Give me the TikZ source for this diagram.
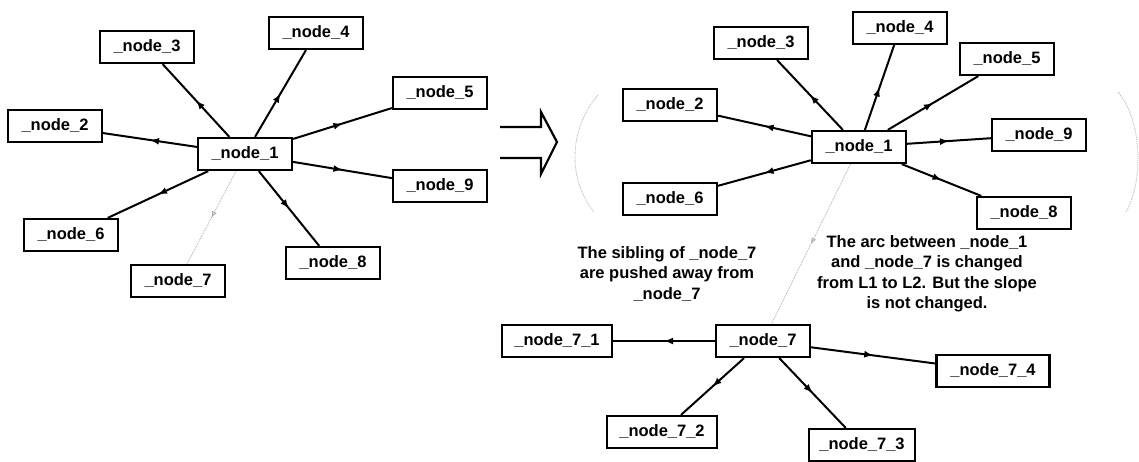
\documentclass[tikz,border=0pt]{standalone}
\usepackage{fontspec}
\setmainfont{Liberation Sans}
\usetikzlibrary{decorations.markings,arrows.meta}
\begin{document}
\tikzset{
  nd/.style={draw, line width=2.2pt, font=\fontsize{16.5}{18}\selectfont\bfseries, minimum width=94pt, minimum height=32pt, inner sep=0pt},
  ed/.style={line width=2pt, postaction={decorate}, decoration={markings, mark=at position 0.5 with {\arrow{Latex[length=9pt,width=7pt]}}}},
  gd/.style={gray!70, line width=0.8pt, densely dotted, postaction={decorate}, decoration={markings, mark=at position 0.5 with {\arrow{Latex[length=6pt,width=5pt,open]}}}},
  note/.style={align=center, font=\fontsize{16.5}{20.5}\selectfont\bfseries}
}
\begin{tikzpicture}[x=1pt,y=-1pt]
\useasboundingbox (0,0) rectangle (1139,461);
% left graph
\node[nd] (a1) at (245,154) {\_node\_1};
\node[nd] (a2) at (55,126) {\_node\_2};
\node[nd] (a3) at (147,47) {\_node\_3};
\node[nd] (a4) at (316,33) {\_node\_4};
\node[nd] (a5) at (440,93) {\_node\_5};
\node[nd] (a9) at (440,186) {\_node\_9};
\node[nd] (a6) at (71,235) {\_node\_6};
\node[nd] (a7) at (178,281) {\_node\_7};
\node[nd] (a8) at (333,263) {\_node\_8};
\foreach \n in {a2,a3,a4,a5,a9,a6,a8} \draw[ed] (a1) -- (\n);
\draw[gd] (a1) -- (a7);
% block arrow
\draw[line width=2.2pt, line join=miter] (500,127) -- (541,127) -- (541,112) -- (557,142) -- (541,174) -- (541,158) -- (500,158);
% dotted arcs
\draw[gray!55, line width=0.9pt, densely dotted] (598,95) .. controls (568,130) and (568,180) .. (594,212);
\draw[gray!55, line width=0.9pt, densely dotted] (1118,92) .. controls (1142,120) and (1144,180) .. (1126,212);
% right graph
\node[nd] (b1) at (859,147) {\_node\_1};
\node[nd] (b2) at (670,105) {\_node\_2};
\node[nd] (b3) at (761,43) {\_node\_3};
\node[nd] (b6) at (670,199) {\_node\_6};
\node[nd] (b4) at (900,28) {\_node\_4};
\node[nd] (b5) at (1007,59) {\_node\_5};
\node[nd] (b9) at (1039,135) {\_node\_9};
\node[nd] (b8) at (1024,213) {\_node\_8};
\node[nd] (b7) at (763,341) {\_node\_7};
\node[nd, minimum width=110pt] (c1) at (557,341) {\_node\_7\_1};
\node[nd, minimum width=110pt] (c2) at (662,432) {\_node\_7\_2};
\node[nd, minimum width=106pt] (c3) at (862,445) {\_node\_7\_3};
\node[nd, minimum width=113pt] (c4) at (993,371) {\_node\_7\_4};
\foreach \n in {b2,b3,b6,b4,b5,b9,b8} \draw[ed] (b1) -- (\n);
\draw[gd] (b1) -- (b7);
\foreach \n in {c1,c2,c3,c4} \draw[ed] (b7) -- (\n);
% notes
\node[note] (t1) at (667,274) {The sibling of \_node\_7\\are pushed away from\\\_node\_7};
\node[note] (t2) at (927,274) {The arc between \_node\_1\\and \_node\_7 is changed\\from L1 to L2. But the slope\\is not changed.};
\end{tikzpicture}
\end{document}
